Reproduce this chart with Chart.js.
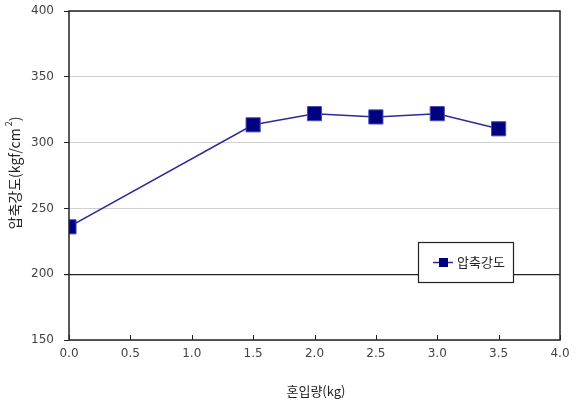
<!DOCTYPE html>
<html>
<head>
<meta charset="utf-8">
<script src="https://cdn.jsdelivr.net/npm/chart.js@4/dist/chart.umd.min.js"></script>
<style>
  html, body { margin: 0; padding: 0; background: #fff; }
  #wrap { width: 578px; height: 403px; }
</style>
</head>
<body>
<div id="wrap"><canvas id="c" width="578" height="403"></canvas></div>
<script>
// data
var amounts = [0.0, 1.5, 2.0, 2.5, 3.0, 3.5];          // 혼입량 (kg)
var strength = [236, 313.5, 322, 319.5, 322, 310.5];   // 압축강도 (kgf/cm2)
var seriesName = '압축강도';
var xTitle = '혼입량(kg)';
var yTitle = '압축강도(kgf/cm';

var fontFamily = '"DejaVu Sans", "Liberation Sans", sans-serif';
var krFont = '"Noto Sans CJK KR", "Noto Sans", sans-serif';

var points = amounts.map(function (a, i) { return { x: a, y: strength[i] }; });

// frame, inner x ticks, titles and legend box
var decor = {
    id: 'decor',
    afterDraw: function (chart) {
        var ctx = chart.ctx, a = chart.chartArea, xs = chart.scales.x;
        ctx.save();
        ctx.strokeStyle = '#222';
        ctx.lineWidth = 1.5;
        ctx.strokeRect(a.left, a.top, a.right - a.left, a.bottom - a.top);

        // x tick marks pointing up into the plot
        ctx.lineWidth = 1;
        xs.ticks.forEach(function (t) {
            var px = Math.round(xs.getPixelForValue(t.value)) + 0.5;
            ctx.beginPath();
            ctx.moveTo(px, a.bottom);
            ctx.lineTo(px, a.bottom - 5);
            ctx.stroke();
        });

        // x title
        ctx.fillStyle = '#222';
        ctx.font = '13px ' + krFont;
        ctx.textAlign = 'center';
        ctx.textBaseline = 'middle';
        ctx.fillText(xTitle, 316, 391);

        // y title with superscript
        ctx.save();
        ctx.translate(15, 173);
        ctx.rotate(-Math.PI / 2);
        ctx.font = '14px ' + krFont;
        var w1 = ctx.measureText(yTitle).width;
        ctx.font = '9px ' + krFont;
        var w2 = ctx.measureText(' 2').width;
        ctx.font = '14px ' + krFont;
        var w3 = ctx.measureText(')').width;
        var total = w1 + w2 + w3;
        var sx = -total / 2;
        ctx.textAlign = 'left';
        ctx.fillText(yTitle, sx, 0);
        ctx.font = '9px ' + krFont;
        ctx.fillText(' 2', sx + w1, -6);
        ctx.font = '14px ' + krFont;
        ctx.fillText(')', sx + w1 + w2, 0);
        ctx.restore();

        // legend box
        var lx = 418, ly = 242, lw = 95, lh = 40;
        ctx.fillStyle = '#fff';
        ctx.fillRect(lx, ly, lw, lh);
        ctx.strokeStyle = '#222';
        ctx.lineWidth = 1.2;
        ctx.strokeRect(lx + 0.5, ly + 0.5, lw, lh);
        var cy = ly + lh / 2 + 0.5;
        ctx.strokeStyle = '#2b2b99';
        ctx.lineWidth = 1.5;
        ctx.beginPath();
        ctx.moveTo(lx + 15, cy);
        ctx.lineTo(lx + 35, cy);
        ctx.stroke();
        ctx.fillStyle = '#000080';
        ctx.fillRect(lx + 21, cy - 4.5, 9, 9);
        ctx.fillStyle = '#222';
        ctx.font = '13px ' + krFont;
        ctx.textAlign = 'left';
        ctx.textBaseline = 'middle';
        ctx.fillText(seriesName, lx + 39, cy);
        ctx.restore();
    }
};

new Chart(document.getElementById('c'), {
    type: 'line',
    data: {
        datasets: [{
            label: seriesName,
            data: points,
            borderColor: '#2b2b99',
            borderWidth: 1.5,
            backgroundColor: '#000080',
            pointStyle: 'rect',
            pointRadius: 10,
            pointBorderColor: '#4a4ab0',
            pointBorderWidth: 1,
            tension: 0
        }]
    },
    options: {
        responsive: false,
        animation: false,
        layout: { padding: { left: 0, right: 18, top: 7, bottom: 0 } },
        plugins: { legend: { display: false }, tooltip: { enabled: false } },
        scales: {
            x: {
                type: 'linear',
                min: 0, max: 4,
                afterFit: function (s) { s.height = 63; s.paddingLeft = 0; s.paddingRight = 0; },
                ticks: {
                    stepSize: 0.5,
                    padding: 3,
                    color: '#444',
                    font: { family: fontFamily, size: 12 },
                    callback: function (v) { return Number(v).toFixed(1); }
                },
                grid: { drawOnChartArea: false, drawTicks: true, tickLength: 4, color: 'rgba(0,0,0,0)' },
                border: { display: false }
            },
            y: {
                min: 150, max: 400,
                afterFit: function (s) { s.width = 69; s.paddingTop = 0; s.paddingBottom = 0; },
                ticks: {
                    stepSize: 50,
                    padding: 10,
                    color: '#444',
                    font: { family: fontFamily, size: 12 }
                },
                grid: {
                    color: function (c) { return c.tick && c.tick.value === 200 ? '#222' : '#d0d0d0'; },
                    tickColor: '#222',
                    tickLength: 5,
                    lineWidth: function (c) { return c.tick && c.tick.value === 200 ? 1.2 : 1; }
                },
                border: { display: false }
            }
        }
    },
    plugins: [decor]
});
</script>
</body>
</html>
